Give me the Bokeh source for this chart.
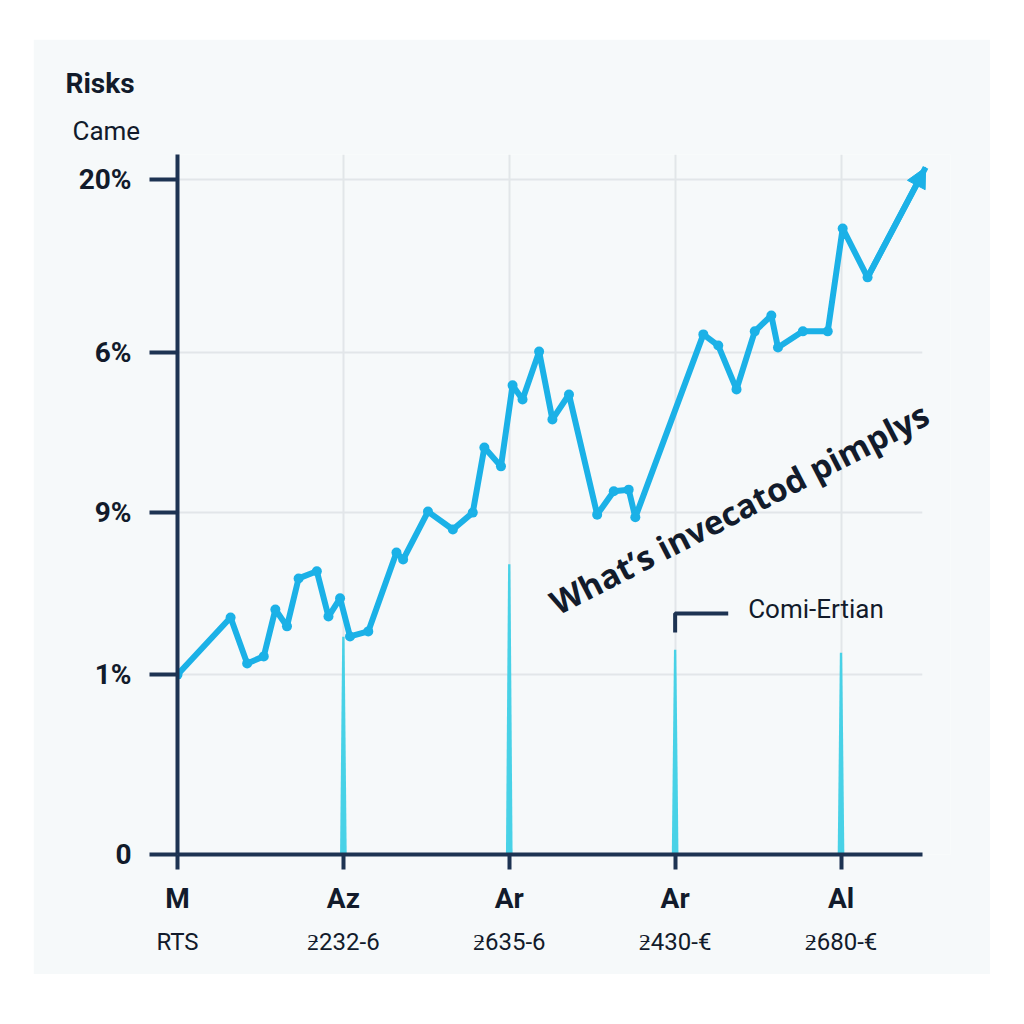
from bokeh.plotting import figure
from bokeh.models import (LinearAxis, FixedTicker, Title, Label, Arrow, NormalHead,
                          Range1d, ColumnDataSource)
from bokeh.embed import file_html
from bokeh.resources import INLINE

# ---- data ----
x_ticks = [0, 1, 2, 3, 4]
x_labels = ["M", "Az", "Ar", "Ar", "Al"]
x_sublabels = ["RTS", "ƻ232-6", "ƻ635-6", "ƻ430-€", "ƻ680-€"]
y_ticks = [0, 5.33, 10.13, 14.87, 20.0]
y_labels = ["0", "1%", "9%", "6%", "20%"]

series_x = [0.00, 0.32, 0.42, 0.52, 0.59, 0.66, 0.73, 0.84, 0.91, 0.98, 1.04, 1.15,
            1.32, 1.36, 1.51, 1.66, 1.78, 1.85, 1.95, 2.02, 2.08, 2.18, 2.26, 2.36,
            2.53, 2.63, 2.72, 2.76, 3.17, 3.26, 3.37, 3.48, 3.58, 3.62, 3.77, 3.92,
            4.01, 4.16, 4.51]
series_y = [5.33, 7.02, 5.66, 5.87, 7.26, 6.76, 8.18, 8.39, 7.05, 7.59, 6.46, 6.61,
            8.95, 8.74, 10.16, 9.63, 10.13, 12.06, 11.50, 13.90, 13.48, 14.90, 12.89, 13.63,
            10.07, 10.76, 10.81, 9.99, 15.41, 15.08, 13.78, 15.50, 15.97, 15.02, 15.50, 15.50,
            18.55, 17.10, 20.36]

spike_x = [1, 2, 3, 4]
spike_top = [6.45, 8.6, 6.07, 5.98]

bracket_x = [3.0, 3.0, 3.32]
bracket_y = [6.58, 7.14, 7.14]

annotation_text = "What’s invecatod pimplys"
annotation_x, annotation_y = 2.26, 7.40
legend_text = "Comi-Ertian"
legend_x, legend_y = 3.44, 7.26

x_extent = 4.49  # where axis line and horizontal grid lines end

# ---- styles ----
BG = "#F6F9FA"
AXIS = "#1D3352"
TEXT = "#121B2B"
LINE = "#1BB1E7"
SPIKE = "#3FD0E6"
GRID = "#E2E6E9"

p = figure(width=957, height=935, x_range=Range1d(0, 4.66), y_range=Range1d(0, 20.74),
           output_backend="svg", toolbar_location=None, title_location=None,
           min_border_left=144, min_border_right=40, min_border_top=115, min_border_bottom=120,
           background_fill_color=BG, border_fill_color=BG, outline_line_color=None)
p.margin = (39, 0, 0, 33)

# axes
xt = FixedTicker(ticks=x_ticks)
yt = FixedTicker(ticks=y_ticks)
p.xaxis.ticker = xt
p.yaxis.ticker = yt
p.xgrid.ticker = xt
p.ygrid.visible = False
p.xaxis.bounds = (0, x_extent)
p.xgrid.grid_line_color = GRID
p.xgrid.grid_line_width = 2
# horizontal grid lines that stop where the x axis line stops
p.segment(x0=[0] * len(y_ticks), y0=y_ticks, x1=[x_extent] * len(y_ticks), y1=y_ticks,
          line_color=GRID, line_width=2, level="underlay")

p.xaxis.major_label_overrides = dict(zip(x_ticks, x_labels))
p.yaxis.major_label_overrides = dict(zip(y_ticks, y_labels))
for ax in (p.xaxis, p.yaxis):
    ax.axis_line_color = AXIS
    ax.axis_line_width = 4
    ax.major_tick_line_color = AXIS
    ax.major_tick_line_width = 4
    ax.major_tick_in = 0
    ax.minor_tick_line_color = None
    ax.major_label_text_font = "Roboto"
    ax.major_label_text_font_style = "bold"
    ax.major_label_text_color = TEXT
p.yaxis.major_tick_out = 28
p.yaxis.major_label_standoff = 18
p.yaxis.major_label_text_font_size = "28px"
p.xaxis.major_tick_out = 15
p.xaxis.major_label_standoff = 12
p.xaxis.major_label_text_font_size = "28px"

ax2 = LinearAxis(ticker=FixedTicker(ticks=x_ticks),
                 major_label_overrides=dict(zip(x_ticks, x_sublabels)),
                 axis_line_color=None, major_tick_line_color=None, minor_tick_line_color=None,
                 major_label_text_font="Roboto", major_label_text_font_size="24px",
                 major_label_text_color=TEXT, major_label_standoff=4)
p.add_layout(ax2, "below")

# titles
p.add_layout(Title(text="Came", align="left", offset=-105, text_font="Roboto",
                   text_font_size="26px", text_font_style="normal", text_color=TEXT,
                   standoff=18), "above")
p.add_layout(Title(text="Risks", align="left", offset=-112, text_font="Roboto",
                   text_font_size="28px", text_font_style="bold", text_color=TEXT,
                   standoff=10), "above")

# spikes (tapered vertical lines)
hw_b, hw_t = 0.02, 0.007
spike_xs = [[x - hw_b, x - hw_t, x + hw_t, x + hw_b] for x in spike_x]
spike_ys = [[0, t, t, 0] for t in spike_top]
p.patches(spike_xs, spike_ys, fill_color=SPIKE, line_color=None, fill_alpha=0.95)

# main series
src = ColumnDataSource(dict(x=series_x, y=series_y))
p.line("x", "y", source=src, line_color=LINE, line_width=6, line_join="round")
p.scatter(series_x[:-1], series_y[:-1], size=10, fill_color=LINE, line_color=None)
p.add_layout(Arrow(end=NormalHead(size=20, fill_color=LINE, line_color=LINE),
                   x_start=series_x[-2], y_start=series_y[-2],
                   x_end=series_x[-1], y_end=series_y[-1],
                   line_color=LINE, line_width=6))

# bracket + legend text
p.line(bracket_x, bracket_y, line_color=AXIS, line_width=4)
p.add_layout(Label(x=legend_x, y=legend_y, text=legend_text, text_font="Roboto",
                   text_font_size="26px", text_color=TEXT, text_baseline="middle"))

# rotated annotation
p.add_layout(Label(x=annotation_x, y=annotation_y, text=annotation_text, angle=27.3,
                   angle_units="deg", text_font="Open Sans", text_font_style="bold",
                   text_font_size="33px", text_color=TEXT, text_align="left",
                   text_baseline="alphabetic"))

open("out.html", "w").write(file_html(p, INLINE))
